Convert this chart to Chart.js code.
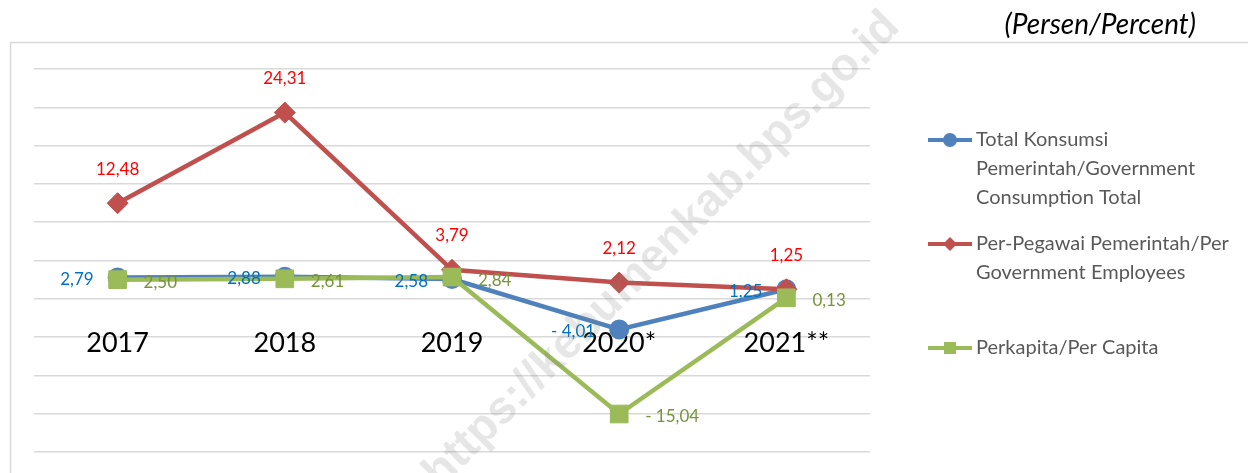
<!DOCTYPE html>
<html>
<head>
<meta charset="utf-8">
<script src="https://cdn.jsdelivr.net/npm/chart.js@4/dist/chart.umd.min.js"></script>
<style>
html,body{margin:0;padding:0;background:#fff;}
#wrap{width:1248px;height:473px;position:relative;overflow:hidden;}
</style>
</head>
<body>
<div id="wrap"><canvas id="c" width="1248" height="473"></canvas></div>
<script>
// ---- data ----
const categories = ['2017', '2018', '2019', '2020*', '2021**'];
const totalConsumption = [2.79, 2.88, 2.58, -4.01, 1.25];
const perEmployee = [12.48, 24.31, 3.79, 2.12, 1.25];
const perCapita = [2.50, 2.61, 2.84, -15.04, 0.13];
const seriesNames = [
  'Total Konsumsi Pemerintah/Government Consumption Total',
  'Per-Pegawai Pemerintah/Per Government Employees',
  'Perkapita/Per Capita'
];
const yMin = -20, yMax = 30, yStep = 5;
const unitLabel = '(Persen/Percent)';
const watermarkText = 'https://kebumenkab.bps.go.id';

function fmt(v) {
  const s = Math.abs(v).toFixed(2).replace('.', ',');
  return v < 0 ? '- ' + s : s;
}

const frame = {
  id: 'frame',
  beforeDraw(chart) {
    const ctx = chart.ctx;
    ctx.save();
    ctx.strokeStyle = '#d9d9d9';
    ctx.lineWidth = 1.5;
    ctx.strokeRect(10.5, 42.5, 1400, 600);
    ctx.font = 'italic 28px Lato';
    ctx.fillStyle = '#000';
    ctx.textAlign = 'right';
    ctx.textBaseline = 'middle';
    ctx.fillText(unitLabel, 1196, 25);
    ctx.restore();
  }
};

const dataLabels = {
  id: 'dataLabels',
  afterDatasetsDraw(chart) {
    const ctx = chart.ctx;
    ctx.save();
    ctx.font = '17px Lato';
    chart.data.datasets.forEach((ds, i) => {
      const meta = chart.getDatasetMeta(i);
      meta.data.forEach((pt, j) => {
        const txt = fmt(ds.data[j]);
        ctx.fillStyle = ds.labelColor;
        ctx.textBaseline = 'middle';
        if (ds.labelPos === 'left') {
          ctx.textAlign = 'right';
          ctx.fillText(txt, pt.x - 24, pt.y + 2);
        } else if (ds.labelPos === 'right') {
          ctx.textAlign = 'left';
          ctx.fillText(txt, pt.x + 26, pt.y + 3);
        } else {
          ctx.textAlign = 'center';
          ctx.fillText(txt, pt.x, pt.y - 34);
        }
      });
    });
    ctx.restore();
  }
};

const customLegend = {
  id: 'customLegend',
  afterDraw(chart) {
    const ctx = chart.ctx;
    ctx.save();
    ctx.font = '20px Lato';
    const maxW = 262;
    chart.data.datasets.forEach((ds, i) => {
      const y0 = 140 + i * 104;
      ctx.strokeStyle = ds.borderColor;
      ctx.lineWidth = 4;
      ctx.beginPath();
      ctx.moveTo(928, y0);
      ctx.lineTo(972, y0);
      ctx.stroke();
      ctx.fillStyle = ds.backgroundColor;
      ctx.beginPath();
      if (ds.pointStyle === 'circle') {
        ctx.arc(950, y0, 7, 0, Math.PI * 2);
      } else if (ds.pointStyle === 'rectRot') {
        ctx.moveTo(943, y0); ctx.lineTo(950, y0 - 7); ctx.lineTo(957, y0); ctx.lineTo(950, y0 + 7);
        ctx.closePath();
      } else {
        ctx.rect(944, y0 - 6, 12, 12);
      }
      ctx.fill();
      const words = ds.label.split(' ');
      const lines = [];
      let cur = '';
      words.forEach(w => {
        const t = cur ? cur + ' ' + w : w;
        if (ctx.measureText(t).width > maxW && cur) { lines.push(cur); cur = w; }
        else cur = t;
      });
      if (cur) lines.push(cur);
      ctx.fillStyle = '#595959';
      ctx.textAlign = 'left';
      ctx.textBaseline = 'middle';
      lines.forEach((l, k) => ctx.fillText(l, 976, y0 + k * 29));
    });
    ctx.restore();
  }
};

const watermark = {
  id: 'watermark',
  afterDraw(chart) {
    const ctx = chart.ctx;
    ctx.save();
    ctx.translate(662, 250);
    ctx.rotate(-Math.PI / 4);
    ctx.font = 'bold 46px "Liberation Sans"';
    ctx.fillStyle = 'rgba(128,128,128,0.2)';
    ctx.textAlign = 'center';
    ctx.textBaseline = 'middle';
    ctx.fillText(watermarkText, 0, 0);
    ctx.restore();
  }
};

new Chart(document.getElementById('c'), {
  type: 'line',
  data: {
    labels: categories,
    datasets: [
      {
        label: seriesNames[0], data: totalConsumption,
        borderColor: '#4F81BD', backgroundColor: '#4F81BD',
        borderWidth: 4.5, pointStyle: 'circle', pointRadius: 9, pointBorderWidth: 2,
        pointBorderColor: '#4F81BD', order: 3,
        labelPos: 'left', labelColor: '#0070C0'
      },
      {
        label: seriesNames[1], data: perEmployee,
        borderColor: '#C0504D', backgroundColor: '#C0504D',
        borderWidth: 4.5, pointStyle: 'rectRot', pointRadius: 10.5, pointBorderWidth: 1,
        pointBorderColor: '#C0504D', order: 2,
        labelPos: 'above', labelColor: '#FF0000'
      },
      {
        label: seriesNames[2], data: perCapita,
        borderColor: '#9BBB59', backgroundColor: '#9BBB59',
        borderWidth: 4.5, pointStyle: 'rect', pointRadius: 12.5, pointBorderWidth: 1,
        pointBorderColor: '#9BBB59', order: 1,
        labelPos: 'right', labelColor: '#77933C'
      }
    ]
  },
  options: {
    responsive: false,
    devicePixelRatio: 1,
    animation: false,
    events: [],
    layout: { padding: { left: 34, right: 378, top: 69, bottom: 21 } },
    elements: { line: { tension: 0 } },
    plugins: { legend: { display: false }, tooltip: { enabled: false } },
    scales: {
      x: {
        type: 'category',
        position: { y: 0 },
        offset: true,
        grid: { display: false, drawTicks: false },
        border: { display: false },
        ticks: { font: { family: 'Lato', size: 27 }, color: '#000', padding: 28, maxRotation: 0, autoSkip: false },
        afterFit(s) { s.height = 0; }
      },
      y: {
        min: yMin, max: yMax,
        ticks: { stepSize: yStep, display: false },
        grid: { color: '#d9d9d9', lineWidth: 1.5, drawTicks: false },
        border: { display: false },
        afterFit(s) { s.width = 0; }
      }
    }
  },
  plugins: [frame, dataLabels, customLegend, watermark]
});
</script>
</body>
</html>
